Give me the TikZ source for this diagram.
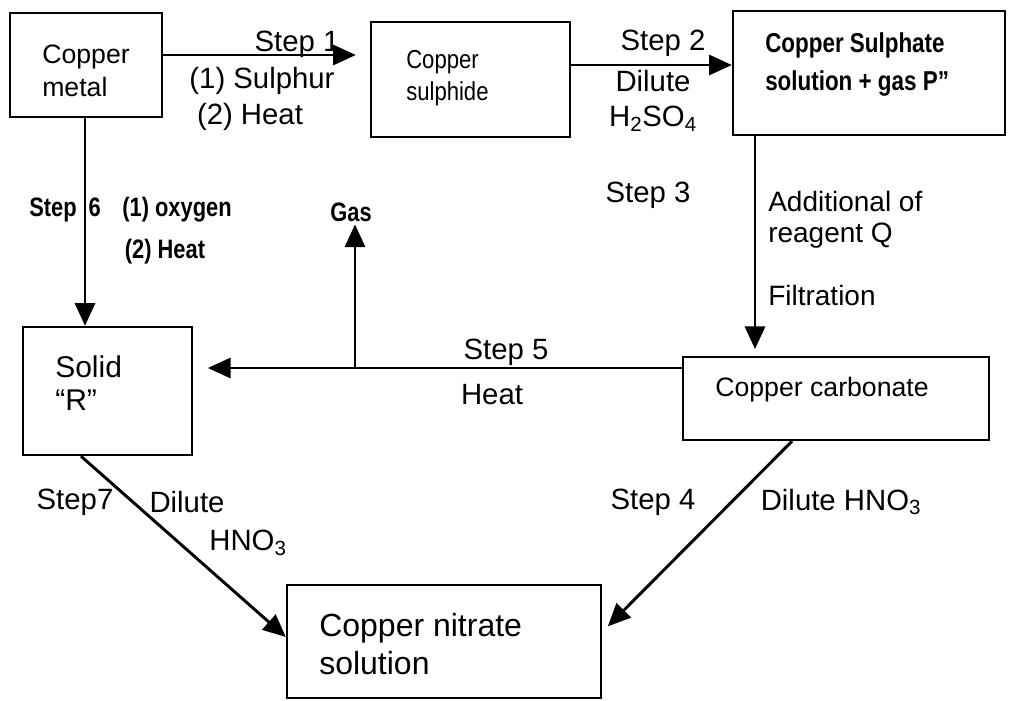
\documentclass[tikz,border=0pt]{standalone}
\usepackage{fontspec}
\setmainfont{Liberation Sans}
\newfontfamily\condfont[FakeStretch=0.82]{Liberation Sans}
\newfontfamily\narrowfont[FakeStretch=0.85]{Liberation Sans}
\usetikzlibrary{arrows.meta}
\begin{document}
\begin{tikzpicture}[x=0.75pt,y=-0.75pt,
  box/.style={draw, line width=1.8pt, inner sep=0pt},
  arr/.style={line width=2.2pt, -{Triangle[length=17pt,width=15pt]}},
  lab/.style={inner sep=0pt, font=\fontsize{22}{26}\selectfont},
  lab2/.style={inner sep=0pt, anchor=west, font=\fontsize{21}{26}\selectfont},
  cond/.style={inner sep=0pt, font=\condfont\bfseries\fontsize{20}{28.5}\selectfont},
  txt/.style={inner sep=0pt, align=left, anchor=west}]
\useasboundingbox (0,0) rectangle (1017,700);
\fill[white] (0,0) rectangle (1017,700);

% boxes
\node[box, minimum width=114pt, minimum height=78pt] (m1) at (86,65) {};
\node[box, minimum width=149.25pt, minimum height=86.25pt] (m2) at (470.5,79.5) {};
\node[box, minimum width=204pt, minimum height=93pt] (m3) at (869,73) {};
\node[box, minimum width=229.5pt, minimum height=62.25pt] (m4) at (836,398.5) {};
\node[box, minimum width=126.75pt, minimum height=96pt] (m5) at (107.5,391) {};
\node[box, minimum width=235.5pt, minimum height=84.75pt] (m6) at (444,641.5) {};

% box texts
\node[txt, font=\fontsize{20}{24.75}\selectfont] (t1) at (42,71) {Copper\\metal};
\node[txt, font=\narrowfont\fontsize{19.5}{24.5}\selectfont] (t2) at (406,78) {Copper\\sulphide};
\node[txt, font=\condfont\bfseries\fontsize{20.5}{28.5}\selectfont] (t3) at (765,64) {Copper Sulphate\\solution + gas P”};
\node[txt, font=\fontsize{20}{24}\selectfont] (t4) at (715,390) {Copper carbonate};
\node[txt, font=\fontsize{22.5}{24.75}\selectfont] (t5) at (55,383) {Solid\\“R”};
\node[txt, font=\fontsize{24}{28.5}\selectfont] (t6) at (319,644) {Copper nitrate\\solution};

% labels
\node[lab] (s1) at (297,44) {Step 1};
\node[lab] (s1a) at (262,81) {(1) Sulphur};
\node[lab] (s1b) at (250,117) {(2) Heat};
\node[lab] (s2) at (663,43) {Step 2};
\node[lab] (s2a) at (653,81) {Dilute};
\node[lab] (s2b) at (653,119) {H\textsubscript{2}SO\textsubscript{4}};
\node[lab] (s3) at (648,195) {Step 3};
\node[lab2] (s3a) at (768,201) {Additional of};
\node[lab2] (s3b) at (768,236) {reagent Q};
\node[lab2] (s3c) at (768,295) {Filtration};
\node[lab] (s5) at (506,352) {Step 5};
\node[lab] (s5a) at (492,395) {Heat};
\node[cond] (gas) at (351,212) {Gas};
\node[cond, anchor=west] (s6) at (29,210) {Step\hspace{9pt}6};
\node[cond] (o1) at (177,210) {(1) oxygen};
\node[cond] (o2) at (165,252) {(2) Heat};
\node[lab] (s7) at (75,502) {Step7};
\node[lab] (s7a) at (187,502) {Dilute};
\node[lab] (s7b) at (248,543) {HNO\textsubscript{3}};
\node[lab] (s4) at (653,502) {Step 4};
\node[lab] (s4a) at (841,502) {Dilute HNO\textsubscript{3}};

% helper coordinates
\coordinate (r1) at (0,55);
\coordinate (r2) at (0,65);
\coordinate (c3) at (755,0);
\coordinate (r5) at (0,368);
\coordinate (g0) at (355,368);
\coordinate (c6) at (85,0);
\coordinate (c7) at (81,0);
\coordinate (r7) at (0,637);
\coordinate (c8) at (792,0);
\coordinate (r8) at (0,632);

% arrows
\draw[arr, shorten >=10.5pt] (m1.east |- r1) -- (m2.west |- r1);
\draw[arr] (m2.east |- r2) -- (m3.west |- r2);
\draw[arr, shorten >=5pt] (m3.south -| c3) -- (m4.north -| c3);
\draw[arr, shorten >=11pt] (m4.west |- r5) -- (m5.east |- r5);
\draw[arr, shorten >=2pt] (g0) -- (gas.south -| g0);
\draw[arr] (m1.south -| c6) -- (m5.north -| c6);
\draw[arr] (m5.south -| c7) -- (m6.west |- r7);
\draw[arr, shorten >=6pt] (m4.south -| c8) -- (m6.east |- r8);
\end{tikzpicture}
\end{document}
